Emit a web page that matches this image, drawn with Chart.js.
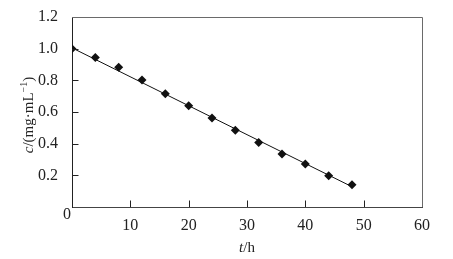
<!DOCTYPE html>
<html>
<head>
<meta charset="utf-8">
<script src="https://cdn.jsdelivr.net/npm/chart.js@4"></script>
<style>
  html, body { margin: 0; padding: 0; background: #fff; }
  #wrap { width: 453px; height: 259px; }
</style>
</head>
<body>
<div id="wrap"><canvas id="c"></canvas></div>
<script>
// measured points
const times = [0, 4, 8, 12, 16, 20, 24, 28, 32, 36, 40, 44, 48]
const conc = [1.00, 0.945, 0.882, 0.802, 0.716, 0.64, 0.562, 0.485, 0.407, 0.335, 0.272, 0.198, 0.141]
// fitted straight line
const fitTimes = [0, 48]
const fitConc = [1.005, 0.128]

const xTicks = [10, 20, 30, 40, 50]
const yTicks = [0.2, 0.4, 0.6, 0.8, 1.0]

const serif = '"Liberation Serif", "DejaVu Serif", serif'
const ink = '#222'

// inside ticks, grey top/right frame, the shared "0" and the axis titles
const decor = {
  id: 'decor',
  afterDraw(chart) {
    const { ctx, chartArea: a, scales: { x, y } } = chart
    ctx.save()
    ctx.lineWidth = 1
    ctx.strokeStyle = ink
    ctx.beginPath()
    xTicks.forEach(v => {
      const px = Math.round(x.getPixelForValue(v)) + 0.5
      ctx.moveTo(px, a.bottom)
      ctx.lineTo(px, a.bottom - 6.5)
    })
    yTicks.forEach(v => {
      const py = Math.round(y.getPixelForValue(v)) + 0.5
      ctx.moveTo(a.left, py)
      ctx.lineTo(a.left + 6.5, py)
    })
    ctx.stroke()

    ctx.strokeStyle = '#6a6a6a'
    ctx.beginPath()
    ctx.moveTo(a.left, a.top + 0.5)
    ctx.lineTo(a.right + 0.5, a.top + 0.5)
    ctx.lineTo(a.right + 0.5, a.bottom)
    ctx.stroke()

    ctx.fillStyle = ink
    ctx.font = '16px ' + serif
    ctx.textAlign = 'center'
    ctx.textBaseline = 'middle'
    ctx.fillText('0', a.left - 5, a.bottom + 8)

    // x title: t/h
    ctx.textBaseline = 'alphabetic'
    ctx.textAlign = 'left'
    const xParts = [['italic 15px ' + serif, 't'], ['15px ' + serif, '/h']]
    let w = 0
    xParts.forEach(p => { ctx.font = p[0]; w += ctx.measureText(p[1]).width })
    let cx = (a.left + a.right) / 2 - w / 2
    xParts.forEach(p => { ctx.font = p[0]; ctx.fillText(p[1], cx, 252); cx += ctx.measureText(p[1]).width })

    // y title: c/(mg·mL-1)
    const yParts = [
      ['italic 15px ' + serif, 'c', 0],
      ['15px ' + serif, '/(mg\u00b7mL', 0],
      ['10px ' + serif, '\u22121', -6],
      ['15px ' + serif, ')', 0]
    ]
    w = 0
    yParts.forEach(p => { ctx.font = p[0]; w += ctx.measureText(p[1]).width })
    ctx.translate(33, 115)
    ctx.rotate(-Math.PI / 2)
    cx = -w / 2
    yParts.forEach(p => { ctx.font = p[0]; ctx.fillText(p[1], cx, p[2]); cx += ctx.measureText(p[1]).width })
    ctx.restore()
  }
}

new Chart(document.getElementById('c'), {
  type: 'scatter',
  data: {
    datasets: [
      {
        data: times.map((t, i) => ({ x: t, y: conc[i] })),
        pointStyle: 'rectRot',
        pointRadius: 4.5,
        backgroundColor: '#111',
        borderColor: '#111',
        borderWidth: 0,
        order: 1
      },
      {
        type: 'line',
        data: fitTimes.map((t, i) => ({ x: t, y: fitConc[i] })),
        borderColor: '#111',
        borderWidth: 1,
        pointRadius: 0,
        fill: false,
        order: 2
      }
    ]
  },
  options: {
    responsive: true,
    maintainAspectRatio: false,
    animation: false,
    layout: { padding: { top: 17, right: 31, left: 0, bottom: 0 } },
    plugins: { legend: { display: false }, tooltip: { enabled: false } },
    scales: {
      x: {
        type: 'linear',
        min: 0,
        max: 60,
        afterFit: s => { s.height = 52 },
        grid: { display: false },
        border: { display: true, color: '#444', width: 1 },
        ticks: {
          stepSize: 10,
          padding: 1,
          color: ink,
          font: { family: serif, size: 16 },
          callback: v => v === 0 ? '' : v
        }
      },
      y: {
        min: 0,
        max: 1.2,
        afterFit: s => { s.width = 72 },
        grid: { display: false },
        border: { display: true, color: ink, width: 1 },
        ticks: {
          stepSize: 0.2,
          padding: 6,
          color: ink,
          font: { family: serif, size: 16 },
          callback: v => v === 0 ? '' : v.toFixed(1)
        }
      }
    }
  },
  plugins: [decor]
})
</script>
</body>
</html>
